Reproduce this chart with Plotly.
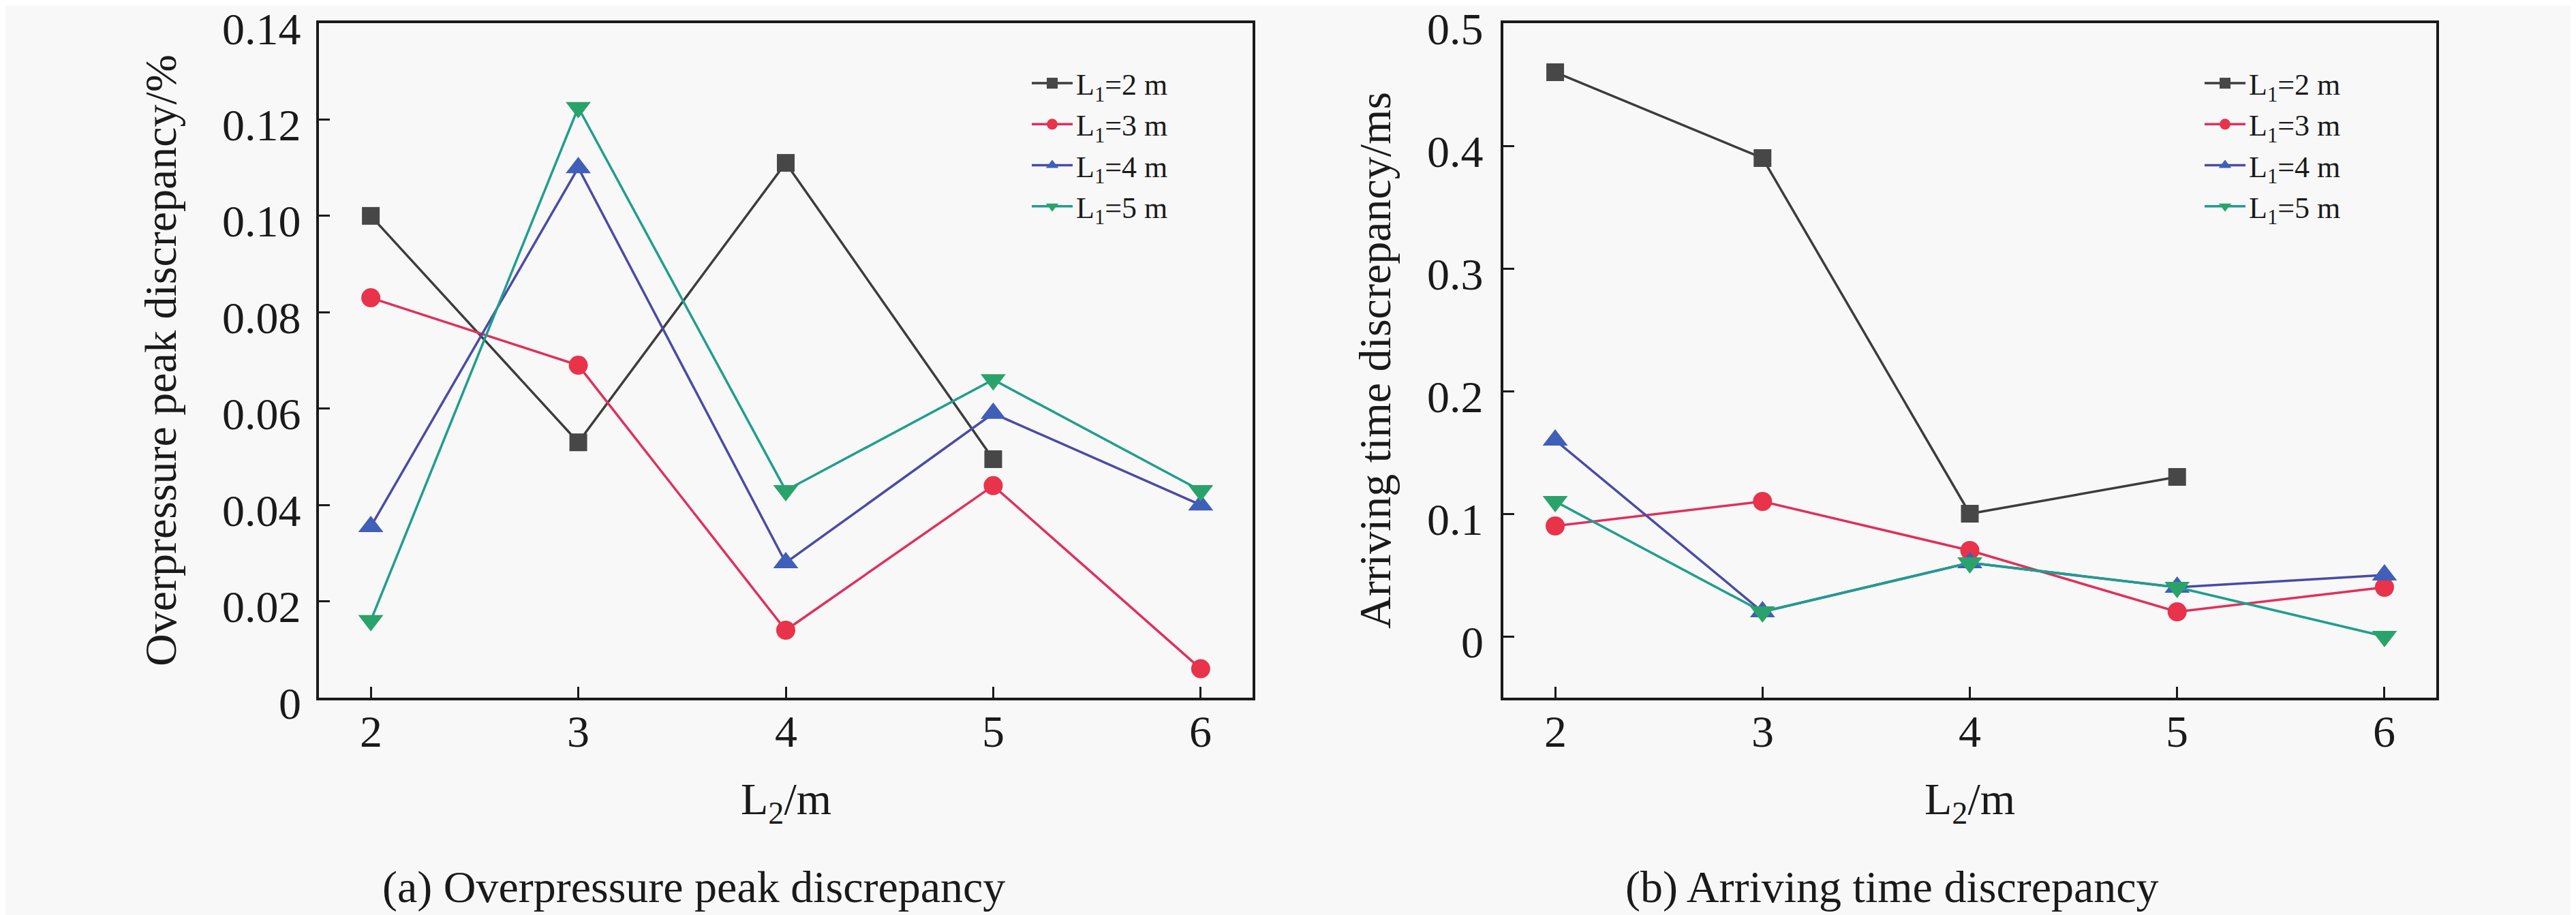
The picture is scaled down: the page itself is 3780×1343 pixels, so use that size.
import plotly.graph_objects as go
from plotly.subplots import make_subplots

# L2 positions (m)
L2 = [2, 3, 4, 5, 6]
L2_short = [2, 3, 4, 5]

# (a) overpressure peak discrepancy, %
peak_L1_2 = [0.100, 0.053, 0.111, 0.0495]
peak_L1_3 = [0.083, 0.069, 0.014, 0.044, 0.006]
peak_L1_4 = [0.0355, 0.110, 0.028, 0.059, 0.040]
peak_L1_5 = [0.016, 0.1225, 0.043, 0.066, 0.043]

# (b) arriving time discrepancy, ms
time_L1_2 = [0.46, 0.39, 0.10, 0.13]
time_L1_3 = [0.09, 0.11, 0.07, 0.02, 0.04]
time_L1_4 = [0.16, 0.02, 0.06, 0.04, 0.05]
time_L1_5 = [0.11, 0.02, 0.06, 0.04, 0.00]

series_names = ["L<sub>1</sub>=2 m", "L<sub>1</sub>=3 m", "L<sub>1</sub>=4 m", "L<sub>1</sub>=5 m"]
peak_ticks = [0, 0.02, 0.04, 0.06, 0.08, 0.10, 0.12, 0.14]
peak_ticktext = ["0", "0.02", "0.04", "0.06", "0.08", "0.10", "0.12", "0.14"]
time_ticks = [0, 0.1, 0.2, 0.3, 0.4, 0.5]
time_ticktext = ["0", "0.1", "0.2", "0.3", "0.4", "0.5"]

FONT = "Liberation Serif"
INK = "#1a1a1a"
BG = "#f8f8f8"
line_colors = ["#3c3c3c", "#e0305a", "#4a4aa8", "#1f9e8c"]
marker_colors = ["#474747", "#e8334a", "#3f5fb8", "#2aa36a"]
symbols = ["square", "circle", "triangle-up", "triangle-down"]
marker_sizes = [26, 28, 32, 32]

W, H = 3780, 1343
OFF = 8  # default body margin of the written page


def px(x):
    return (x - OFF) / W


def py(y):
    return (H - y + OFF) / H


fig = make_subplots(rows=1, cols=2)

peak_sets = [(L2_short, peak_L1_2), (L2, peak_L1_3), (L2, peak_L1_4), (L2, peak_L1_5)]
time_sets = [(L2_short, time_L1_2), (L2, time_L1_3), (L2, time_L1_4), (L2, time_L1_5)]

for col, sets, legend in [(1, peak_sets, "legend"), (2, time_sets, "legend2")]:
    for i, (xs, ys) in enumerate(sets):
        fig.add_trace(
            go.Scatter(
                x=xs,
                y=ys,
                mode="lines+markers",
                name=series_names[i],
                line=dict(color=line_colors[i], width=3.5),
                marker=dict(symbol=symbols[i], size=marker_sizes[i], color=marker_colors[i], line=dict(width=0)),
                legend=legend,
            ),
            row=1,
            col=col,
        )


def axis(domain, **kw):
    base = dict(
        domain=domain,
        showline=True,
        linecolor=INK,
        linewidth=4,
        mirror=True,
        ticks="inside",
        ticklen=16,
        tickwidth=3,
        tickcolor=INK,
        showgrid=False,
        zeroline=False,
        automargin=False,
        showticklabels=False,
    )
    base.update(kw)
    return base


LEFT_A, RIGHT_A = 468, 1838
LEFT_B, RIGHT_B = 2206, 3575
TOP, BOTTOM = 34, 1024
ydom = [py(BOTTOM), py(TOP)]

fig.update_layout(
    xaxis=axis([px(LEFT_A), px(RIGHT_A)], range=[1.75, 6.25], tickvals=L2),
    xaxis2=axis([px(LEFT_B), px(RIGHT_B)], range=[1.75, 6.25], tickvals=L2),
    yaxis=axis(ydom, range=[0, 0.14], tickvals=peak_ticks),
    yaxis2=axis(ydom, range=[-0.05, 0.5], tickvals=time_ticks),
)

text_font = dict(family=FONT, size=66, color=INK)
annotations = []

# tick labels, placed on the axis values
for xref in ("x", "x2"):
    for v in L2:
        annotations.append(dict(
            text=str(v), x=v, xref=xref, y=py(BOTTOM), yref="paper",
            xanchor="center", yanchor="middle", yshift=-49, showarrow=False,
            borderpad=0, font=text_font,
        ))
for yref, left, ticks, labels, gap in [
    ("y", LEFT_A, peak_ticks, peak_ticktext, 25),
    ("y2", LEFT_B, time_ticks, time_ticktext, 28),
]:
    for v, t in zip(ticks, labels):
        annotations.append(dict(
            text=t, x=px(left), xref="paper", y=v, yref=yref,
            xanchor="right", yanchor="middle", xshift=-gap, yshift=-8, showarrow=False,
            borderpad=0, font=text_font,
        ))

# axis titles and panel captions
mid_y = (TOP + BOTTOM) / 2
for text, x, y, angle in [
    ("Overpressure peak discrepancy/%", 235, mid_y, -90),
    ("Arriving time discrepancy/ms", 2017, mid_y, -90),
    ("L<sub>2</sub>/m", (LEFT_A + RIGHT_A) / 2, 1177, 0),
    ("L<sub>2</sub>/m", (LEFT_B + RIGHT_B) / 2, 1177, 0),
    ("(a) Overpressure peak discrepancy", 1018, 1302, 0),
    ("(b) Arriving time discrepancy", 2776, 1302, 0),
]:
    annotations.append(dict(
        text=text, x=px(x), y=py(y), xref="paper", yref="paper", textangle=angle,
        xanchor="center", yanchor="middle", showarrow=False, font=text_font,
    ))

legend_style = dict(
    font=dict(family=FONT, size=44, color=INK),
    bgcolor="rgba(0,0,0,0)",
    xanchor="left",
    yanchor="top",
    tracegroupgap=0,
    itemwidth=60,
)

fig.update_layout(
    template="none",
    width=W,
    height=H,
    margin=dict(l=0, r=0, t=0, b=0),
    paper_bgcolor=BG,
    plot_bgcolor=BG,
    font=dict(family=FONT, size=66, color=INK),
    legend=dict(x=px(1509), y=py(87), **legend_style),
    legend2=dict(x=px(3230), y=py(87), **legend_style),
    annotations=annotations,
)

fig.write_html("out.html")
